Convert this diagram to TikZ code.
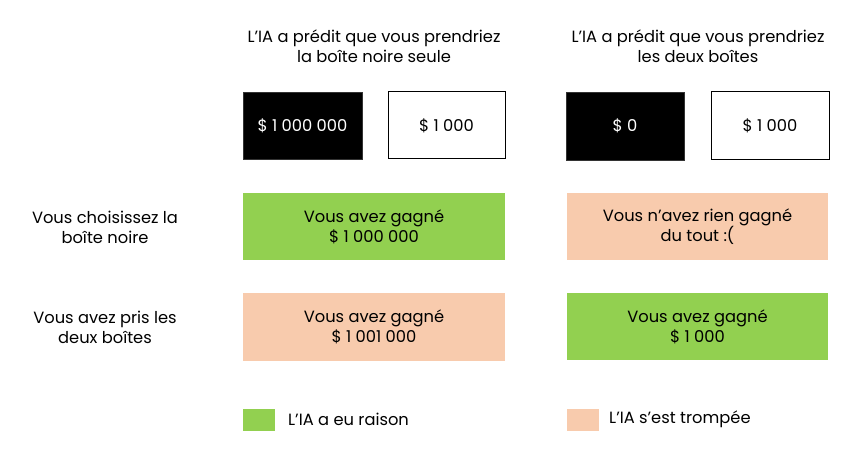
\documentclass[tikz,border=0pt]{standalone}
\usepackage{fontspec}
\setmainfont{Poppins}
\definecolor{okgreen}{HTML}{92D050}
\definecolor{badpeach}{HTML}{F8CBAD}
\begin{document}
\begin{tikzpicture}[x=1pt,y=-1pt,
  fnt/.style={font=\fontsize{16.3}{20}\selectfont},
  txt/.style={fnt,align=center,inner sep=0pt},
  blackbox/.style={fnt,fill=black,draw=black!80,line width=0.6pt,text=white,inner sep=0pt},
  whitebox/.style={fnt,fill=white,draw=black,line width=1pt,inner sep=0pt},
  resbox/.style={fnt,draw=none,align=center,inner sep=0pt},
  legsq/.style={draw=none,inner sep=0pt}]
\useasboundingbox (0,0) rectangle (858,462);
% headers
\node[txt] (h1) at (374,46) {L'IA a prédit que vous prendriez\\la boîte noire seule};
\node[txt] (h2) at (698,46) {L'IA a prédit que vous prendriez\\les deux boîtes};
% boxes
\node[blackbox,minimum width=119,minimum height=67] (b1) at (302.5,125.5) {\$ 1 000 000};
\node[whitebox,minimum width=117,minimum height=67] (b2) at (446.5,125.5) {\$ 1 000};
\node[blackbox,minimum width=118,minimum height=68] (b3) at (625,126) {\$ 0};
\node[whitebox,minimum width=118,minimum height=68] (b4) at (770,126) {\$ 1 000};
% row labels
\node[txt] (r1) at (105,227) {Vous choisissez la\\boîte noire};
\node[txt] (r2) at (105,327.5) {Vous avez pris les\\deux boîtes};
% results
\node[resbox,fill=okgreen,minimum width=262,minimum height=67] (c11) at (374,226.5) {Vous avez gagné\\\$ 1 000 000};
\node[resbox,fill=badpeach,minimum width=262,minimum height=68] (c21) at (374,327) {Vous avez gagné\\\$ 1 001 000};
\node[resbox,fill=badpeach,minimum width=261,minimum height=67] (c12) at (697.5,226.5) {Vous n'avez rien gagné\\du tout :(};
\node[resbox,fill=okgreen,minimum width=261,minimum height=67] (c22) at (697.5,326.5) {Vous avez gagné\\\$ 1 000};
% legend
\node[legsq,fill=okgreen,minimum width=32,minimum height=22] (l1) at (259,420) {};
\node[txt,anchor=west] (lt1) at (288,419) {L'IA a eu raison};
\node[legsq,fill=badpeach,minimum width=32,minimum height=22] (l2) at (583,420) {};
\node[txt,anchor=west] (lt2) at (609,419) {L'IA s'est trompée};
\end{tikzpicture}
\end{document}
